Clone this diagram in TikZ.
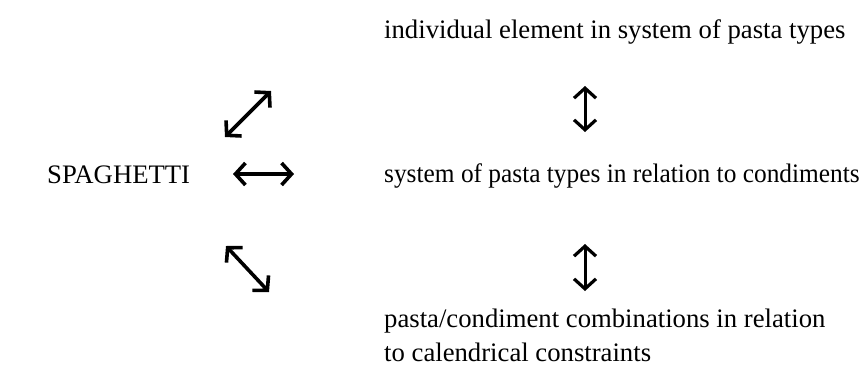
\documentclass[tikz,border=0pt]{standalone}
\usepackage{fontspec}
\setmainfont{Liberation Serif}
\usetikzlibrary{arrows.meta}
\begin{document}
\begin{tikzpicture}[x=1pt,y=-1pt,
  txt/.style={anchor=base west,inner sep=0pt,font=\fontsize{26.7}{34}\selectfont},
  dbl/.style={line width=3.6pt,{Straight Barb[length=10pt,width=22pt,line width=3.6pt]}-{Straight Barb[length=10pt,width=22pt,line width=3.6pt]}},
  vdbl/.style={line width=3pt,{Straight Barb[length=10pt,width=22pt,line width=3.2pt]}-{Straight Barb[length=10pt,width=22pt,line width=3.2pt]}}]
\useasboundingbox (0,0) rectangle (861,376);
\node[txt] (top) at (384,38) {individual element in system of pasta types};
\node[txt,xscale=0.95] (mid) at (384,182) {system of pasta types in relation to condiments};
\node[txt] (bot1) at (384,327) {pasta/condiment combinations in relation};
\node[txt] (bot2) at (384,361) {to calendrical constraints};
\node[txt] (sp) at (47,183) {SPAGHETTI};
\coordinate (d1a) at (225,137);
\coordinate (d1b) at (271,91);
\coordinate (ha) at (233,174);
\coordinate (hb) at (294,174);
\coordinate (d2a) at (226,246);
\coordinate (d2b) at (269,292);
\coordinate (v1a) at (585,86);
\coordinate (v1b) at (585,132);
\coordinate (v2a) at (585,244);
\coordinate (v2b) at (585,291);
\draw[dbl] (d1a) -- (d1b);
\draw[dbl] (ha) -- (hb);
\draw[dbl] (d2a) -- (d2b);
\draw[vdbl] (v1a) -- (v1b);
\draw[vdbl] (v2a) -- (v2b);
\end{tikzpicture}
\end{document}
